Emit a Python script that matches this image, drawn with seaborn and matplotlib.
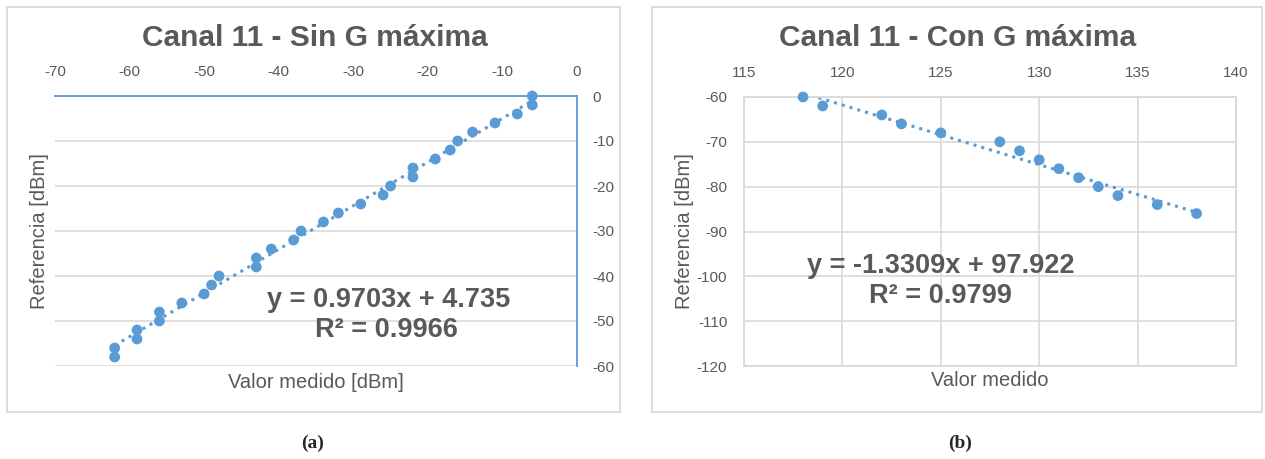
import numpy as np
import pandas as pd
import matplotlib
matplotlib.use("Agg")
import matplotlib.pyplot as plt
import seaborn as sns
from matplotlib.patches import Rectangle

# Panel (a): Canal 11 - Sin G maxima
medido_sin = [-6, -6, -8, -11, -14, -16, -17, -19, -22, -22, -25, -26, -29, -32, -34,
              -37, -38, -41, -43, -43, -48, -49, -50, -53, -56, -56, -59, -59, -62, -62]
ref_sin = [0, -2, -4, -6, -8, -10, -12, -14, -16, -18, -20, -22, -24, -26, -28,
           -30, -32, -34, -36, -38, -40, -42, -44, -46, -48, -50, -52, -54, -56, -58]

# Panel (b): Canal 11 - Con G maxima
medido_con = [118, 119, 122, 123, 125, 128, 129, 130, 131, 132, 133, 134, 136, 138]
ref_con = [-60, -62, -64, -66, -68, -70, -72, -74, -76, -78, -80, -82, -84, -86]

eq_sin = ["y = 0.9703x + 4.735", "R² = 0.9966"]
eq_con = ["y = -1.3309x + 97.922", "R² = 0.9799"]

xticks_sin = [-70, -60, -50, -40, -30, -20, -10, 0]
yticks_sin = [0, -10, -20, -30, -40, -50, -60]
xticks_con = [115, 120, 125, 130, 135, 140]
yticks_con = [-60, -70, -80, -90, -100, -110, -120]

df_sin = pd.DataFrame({"medido": medido_sin, "ref": ref_sin})
df_con = pd.DataFrame({"medido": medido_con, "ref": ref_con})

sns.set_style("white")
plt.rcParams["font.family"] = ["Liberation Sans", "DejaVu Sans"]
plt.rcParams["axes.unicode_minus"] = False

blue = "#5B9BD5"
gray_txt = "#595959"
grid_c = "#D9D9D9"

W, H = 1265, 459
fig = plt.figure(figsize=(W / 100, H / 100), dpi=100)


def fx(px):
    return px / W


def fy(py):
    return 1 - py / H


def make_axes(l, r, t, b):
    return fig.add_axes([fx(l), fy(b), fx(r) - fx(l), fy(t) - fy(b)])


# panel frames
for l, r in [(7, 620), (652, 1262)]:
    fig.patches.append(Rectangle((fx(l), fy(412)), fx(r) - fx(l), fy(7) - fy(412),
                                 transform=fig.transFigure, fill=False,
                                 edgecolor=grid_c, linewidth=1.3))

scat = dict(s=60, color=blue, edgecolor="none", alpha=1, clip_on=False, zorder=4)
line = dict(color=blue, linestyle=":", linewidth=2.2)

# ---- (a)
ax1 = make_axes(55, 577, 96, 366)
sns.regplot(data=df_sin, x="medido", y="ref", ax=ax1, ci=None,
            scatter_kws=scat, line_kws=line)
ax1.set_xlim(-70, 0)
ax1.set_ylim(-60, 0)
ax1.set_xticks(xticks_sin)
ax1.set_yticks(yticks_sin)
ax1.xaxis.tick_top()
ax1.yaxis.tick_right()
ax1.tick_params(length=0, labelsize=11, labelcolor=gray_txt)
ax1.tick_params(axis="x", pad=12)
ax1.tick_params(axis="y", pad=11)
ax1.grid(axis="y", color=grid_c, linewidth=1.2)
ax1.set_axisbelow(True)
for s in ["left", "bottom"]:
    ax1.spines[s].set_visible(False)
for s in ["top", "right"]:
    ax1.spines[s].set_color(blue)
    ax1.spines[s].set_linewidth(1.3)
ax1.set_xlabel("")
ax1.set_ylabel("")
ax1.text(-25.2, -45.3, eq_sin[0], ha="center", va="center", fontsize=19.5,
         fontweight="bold", color=gray_txt)
ax1.text(-25.6, -52.0, eq_sin[1], ha="center", va="center", fontsize=19.5,
         fontweight="bold", color=gray_txt)

# ---- (b)
ax2 = make_axes(744, 1236, 97, 366)
sns.regplot(data=df_con, x="medido", y="ref", ax=ax2, ci=None,
            scatter_kws=scat, line_kws=line)
ax2.set_xlim(115, 140)
ax2.set_ylim(-120, -60)
ax2.set_xticks(xticks_con)
ax2.set_yticks(yticks_con)
ax2.xaxis.tick_top()
ax2.tick_params(length=0, labelsize=11, labelcolor=gray_txt)
ax2.tick_params(axis="x", pad=12)
ax2.tick_params(axis="y", pad=12)
ax2.grid(True, color=grid_c, linewidth=1.2)
ax2.set_axisbelow(True)
for s in ax2.spines.values():
    s.set_color(grid_c)
    s.set_linewidth(1.3)
ax2.set_xlabel("")
ax2.set_ylabel("")
ax2.text(125.0, -97.6, eq_con[0], ha="center", va="center", fontsize=19.5,
         fontweight="bold", color=gray_txt)
ax2.text(125.0, -104.4, eq_con[1], ha="center", va="center", fontsize=19.5,
         fontweight="bold", color=gray_txt)

# titles and axis labels
fig.text(fx(315), fy(38), "Canal 11 - Sin G máxima", ha="center", va="center",
         fontsize=21.5, fontweight="bold", color=gray_txt)
fig.text(fx(958), fy(38), "Canal 11 - Con G máxima", ha="center", va="center",
         fontsize=21.5, fontweight="bold", color=gray_txt)
fig.text(fx(40), fy(231), "Referencia [dBm]", rotation=90, ha="center", va="center",
         fontsize=14.5, color=gray_txt)
fig.text(fx(685), fy(231), "Referencia [dBm]", rotation=90, ha="center", va="center",
         fontsize=14.5, color=gray_txt)
fig.text(fx(316), fy(383), "Valor medido [dBm]", ha="center", va="center",
         fontsize=14.5, color=gray_txt)
fig.text(fx(990), fy(381), "Valor medido", ha="center", va="center",
         fontsize=14.5, color=gray_txt)

# captions
serif = ["Liberation Serif", "DejaVu Serif"]
fig.text(fx(313), fy(443), "(a)", ha="center", va="center", fontsize=14,
         fontweight="bold", family=serif)
fig.text(fx(960), fy(443), "(b)", ha="center", va="center", fontsize=14,
         fontweight="bold", family=serif)

fig.savefig("out.png", dpi=100, facecolor="white")
